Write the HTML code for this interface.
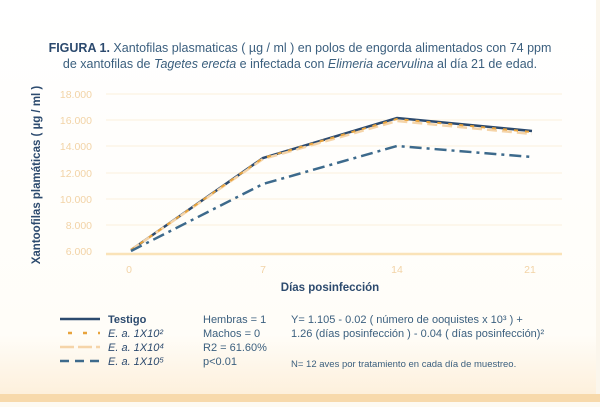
<!DOCTYPE html>
<html><head><meta charset="utf-8"><style>
html,body{margin:0;padding:0;}
body{width:600px;height:402px;overflow:hidden;background:#fdfaf3;font-family:"Liberation Sans",sans-serif;}
</style></head><body>
<svg width="600" height="402" viewBox="0 0 600 402" xmlns="http://www.w3.org/2000/svg" font-family="Liberation Sans, sans-serif">
<defs><linearGradient id="bg" x1="0" y1="0" x2="0" y2="1"><stop offset="0" stop-color="#ffffff"/><stop offset="0.85" stop-color="#fffdf8"/><stop offset="1" stop-color="#fdf0dc"/></linearGradient></defs>
<rect x="0" y="0" width="600" height="402" fill="#fbf6ec"/>
<rect x="0" y="0" width="596" height="394" fill="url(#bg)"/>
<rect x="0" y="394" width="600" height="8" fill="#f7d9ab"/>
<text x="300" y="52" text-anchor="middle" font-size="12.5" fill="#3b5f7e"><tspan font-weight="bold" fill="#2c4a6e">FIGURA 1.</tspan> Xantofilas plasmaticas ( µg / ml ) en polos de engorda alimentados con 74 ppm</text>
<text x="300" y="68" text-anchor="middle" font-size="12.5" fill="#3b5f7e">de xantofilas de <tspan font-style="italic">Tagetes erecta</tspan> e infectada con <tspan font-style="italic">Elimeria acervulina</tspan> al día 21 de edad.</text>
<g stroke="#fbf0dc" stroke-width="1">
<line x1="106" y1="94" x2="562" y2="94"/><line x1="106" y1="120" x2="562" y2="120"/><line x1="106" y1="146" x2="562" y2="146"/><line x1="106" y1="173" x2="562" y2="173"/><line x1="106" y1="199" x2="562" y2="199"/><line x1="106" y1="225" x2="562" y2="225"/>
</g>
<line x1="106" y1="254" x2="562" y2="254" stroke="#fae3b8" stroke-width="2.5"/>
<g font-size="10.5" fill="#f2d3a6" text-anchor="end">
<text x="92" y="98">18.000</text><text x="92" y="124">16.000</text><text x="92" y="150">14.000</text><text x="92" y="177">12.000</text><text x="92" y="203">10.000</text><text x="92" y="229">8.000</text><text x="92" y="255">6.000</text>
</g>
<g font-size="10.5" fill="#f2d3a6" text-anchor="middle">
<text x="129" y="273">0</text><text x="263" y="273">7</text><text x="397" y="273">14</text><text x="530" y="273">21</text>
</g>
<text x="330" y="291" text-anchor="middle" font-size="11.5" font-weight="bold" fill="#2c4a6e">Días posinfección</text>
<text transform="translate(40,175) rotate(-90)" text-anchor="middle" font-size="11.5" font-weight="bold" fill="#2c4a6e">Xantoofilas plamáticas ( µg / ml )</text>
<polyline points="131,250 263,158 397,118 532,131" fill="none" stroke="#2c4a6e" stroke-width="2.5"/>
<polyline points="131,250 263,159 397,121 532,134" fill="none" stroke="#f5d4a8" stroke-width="2.5" stroke-dasharray="10,5"/>
<polyline points="131,250 263,158 397,119 532,132" fill="none" stroke="#e8a33c" stroke-width="2" stroke-dasharray="4,7"/>
<polyline points="131,251 263,184 397,146 532,157" fill="none" stroke="#3d6a8c" stroke-width="2.5" stroke-dasharray="12,5,3,5"/>
<g font-size="11">
<line x1="60" y1="319" x2="100" y2="319" stroke="#2c4a6e" stroke-width="2.5"/>
<text x="108" y="323" fill="#2c4a6e" font-weight="bold">Testigo</text>
<line x1="60" y1="333" x2="100" y2="333" stroke="#e8a33c" stroke-width="2.5" stroke-dasharray="4,11" stroke-dashoffset="-8"/>
<text x="108" y="337" fill="#2c4a6e" font-style="italic">E. a. 1X10²</text>
<line x1="60" y1="347" x2="100" y2="347" stroke="#f5d4a8" stroke-width="2.5" stroke-dasharray="14,4"/>
<text x="108" y="351" fill="#2c4a6e" font-style="italic">E. a. 1X10⁴</text>
<line x1="60" y1="361" x2="100" y2="361" stroke="#3d6a8c" stroke-width="2.5" stroke-dasharray="9,6"/>
<text x="108" y="365" fill="#2c4a6e" font-style="italic">E. a. 1X10⁵</text>
<g fill="#3b5f7e">
<text x="203" y="323">Hembras = 1</text><text x="203" y="337">Machos = 0</text><text x="203" y="351">R2 = 61.60%</text><text x="203" y="365">p&lt;0.01</text>
<text x="291" y="323">Y= 1.105 - 0.02 ( número de ooquistes x 10³ ) +</text>
<text x="291" y="337">1.26 (días posinfección ) - 0.04 ( días posinfección)²</text>
<text x="291" y="367" font-size="9.5">N= 12 aves por tratamiento en cada día de muestreo.</text>
</g>
</g>
</svg>
</body></html>
